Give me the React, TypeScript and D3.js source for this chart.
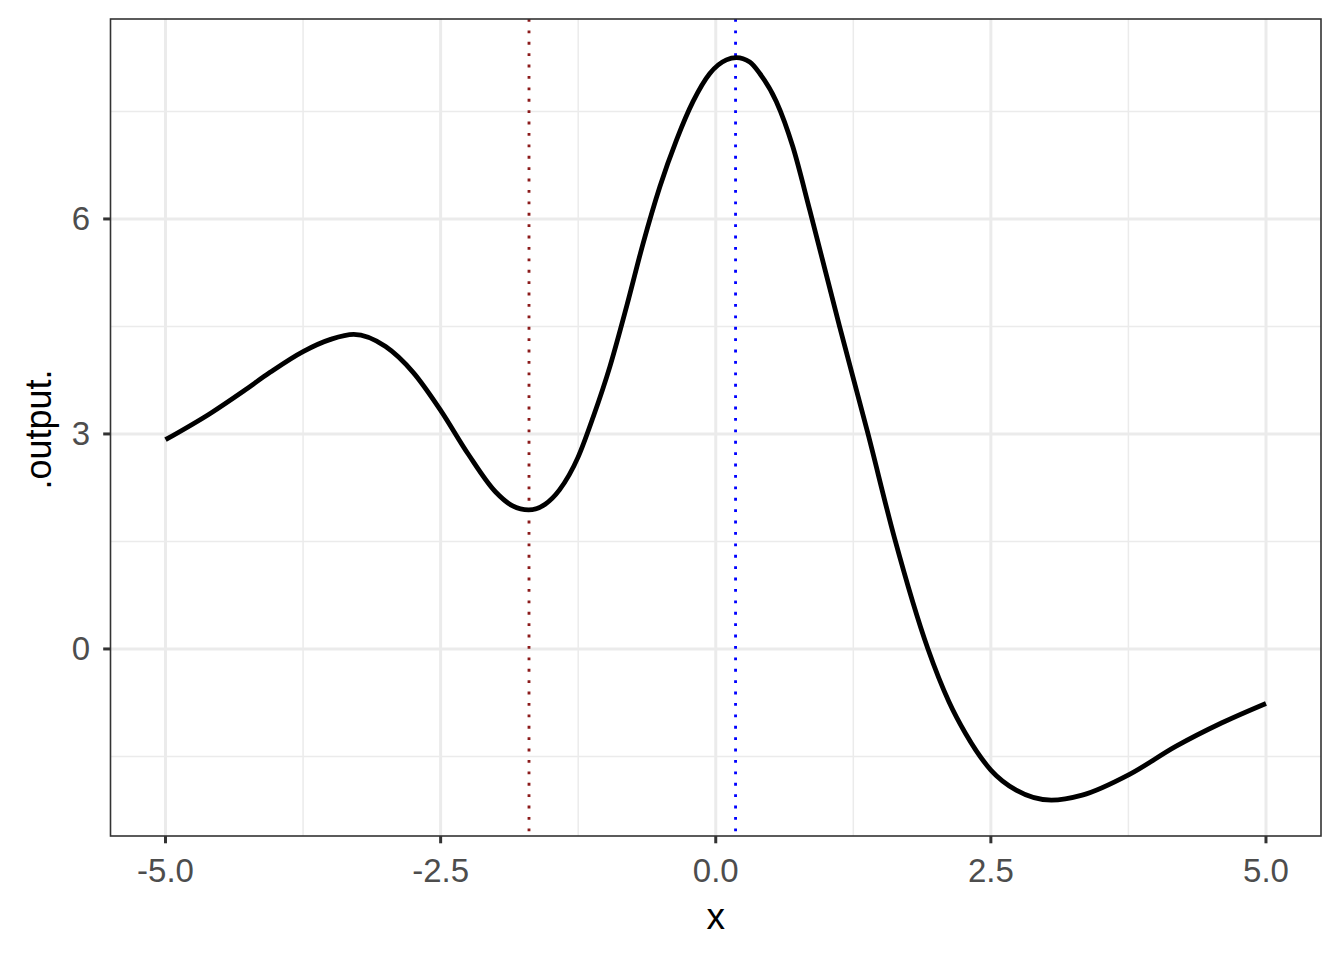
import React from "react";
import * as d3 from "d3";

const xValues = [-5, -4.59, -4.29, -4.05, -3.75, -3.5, -3.29, -3.0, -2.75, -2.5, -2.25, -2.0, -1.85, -1.7, -1.55, -1.42, -1.25, -1.113, -0.962, -0.81, -0.66, -0.508, -0.357, -0.206, -0.054, 0.097, 0.188, 0.309, 0.4, 0.55, 0.7, 0.853, 1.125, 1.382, 1.624, 1.926, 2.12, 2.27, 2.5, 2.73, 3.05, 3.33, 3.76, 4.18, 4.6, 5.0];
const outputValues = [2.92, 3.29, 3.6, 3.86, 4.15, 4.32, 4.39, 4.22, 3.86, 3.33, 2.72, 2.19, 2.0, 1.94, 2.02, 2.22, 2.68, 3.24, 3.94, 4.78, 5.66, 6.45, 7.1, 7.64, 8.03, 8.22, 8.25, 8.19, 8.03, 7.64, 7.01, 6.13, 4.5, 3.01, 1.55, 0.01, -0.74, -1.18, -1.69, -1.97, -2.11, -2.04, -1.75, -1.36, -1.03, -0.76];
const xTicks = [-5, -2.5, 0, 2.5, 5];
const xMinor = [-3.75, -1.25, 1.25, 3.75];
const yTicks = [0, 3, 6];
const yMinor = [-1.5, 1.5, 4.5, 7.5];
const vlines = [
  { x: -1.697, color: "#8B1A1A" },
  { x: 0.18, color: "#0000FF" },
];

const W = 1344, H = 960;
const panel = { left: 110.5, right: 1321, top: 19, bottom: 836 };

export default function App() {
  const x = d3.scaleLinear().domain([-5.5, 5.5]).range([panel.left, panel.right]);
  const y = d3.scaleLinear().domain([-2.61, 8.79]).range([panel.bottom, panel.top]);
  const pts = xValues.map((v, i) => [v, outputValues[i]] as [number, number]);
  const line = d3.line<[number, number]>().x(d => x(d[0])).y(d => y(d[1])).curve(d3.curveMonotoneX);
  const font = "'Liberation Sans', Arial, Helvetica, sans-serif";
  return (
    <svg width={W} height={H} style={{ position: "absolute", left: 0, top: 0, background: "#fff" }}>
      <rect x={0} y={0} width={W} height={H} fill="#fff" />
      <rect x={panel.left} y={panel.top} width={panel.right - panel.left} height={panel.bottom - panel.top} fill="#fff" />
      {yMinor.map(v => <line key={"ym" + v} x1={panel.left} x2={panel.right} y1={y(v)} y2={y(v)} stroke="#EBEBEB" strokeWidth={1.5} />)}
      {xMinor.map(v => <line key={"xm" + v} x1={x(v)} x2={x(v)} y1={panel.top} y2={panel.bottom} stroke="#EBEBEB" strokeWidth={1.5} />)}
      {yTicks.map(v => <line key={"yM" + v} x1={panel.left} x2={panel.right} y1={y(v)} y2={y(v)} stroke="#EBEBEB" strokeWidth={3} />)}
      {xTicks.map(v => <line key={"xM" + v} x1={x(v)} x2={x(v)} y1={panel.top} y2={panel.bottom} stroke="#EBEBEB" strokeWidth={3} />)}
      {vlines.map(v => (
        <line key={"v" + v.x} x1={x(v.x)} x2={x(v.x)} y1={panel.top} y2={panel.bottom} stroke={v.color} strokeWidth={2.85} strokeDasharray="2.85 8.55" />
      ))}
      <path d={line(pts) || ""} fill="none" stroke="#000" strokeWidth={4.8} strokeLinejoin="round" strokeLinecap="butt" />
      <rect x={panel.left} y={panel.top} width={panel.right - panel.left} height={panel.bottom - panel.top} fill="none" stroke="#333333" strokeWidth={1.6} />
      {xTicks.map(v => (
        <g key={"xt" + v}>
          <line x1={x(v)} x2={x(v)} y1={panel.bottom} y2={panel.bottom + 7.3} stroke="#333333" strokeWidth={3} />
          <text x={x(v)} y={882} textAnchor="middle" fontFamily={font} fontSize={33} fill="#4D4D4D">{v.toFixed(1)}</text>
        </g>
      ))}
      {yTicks.map(v => (
        <g key={"yt" + v}>
          <line x1={panel.left - 7.3} x2={panel.left} y1={y(v)} y2={y(v)} stroke="#333333" strokeWidth={3} />
          <text x={90} y={y(v) + 11.5} textAnchor="end" fontFamily={font} fontSize={33} fill="#4D4D4D">{v}</text>
        </g>
      ))}
      <text x={(panel.left + panel.right) / 2} y={929} textAnchor="middle" fontFamily={font} fontSize={37} fill="#000">x</text>
      <text transform={`translate(51, ${(panel.top + panel.bottom) / 2 + 2}) rotate(-90)`} textAnchor="middle" fontFamily={font} fontSize={36} fill="#000">.output.</text>
    </svg>
  );
}
